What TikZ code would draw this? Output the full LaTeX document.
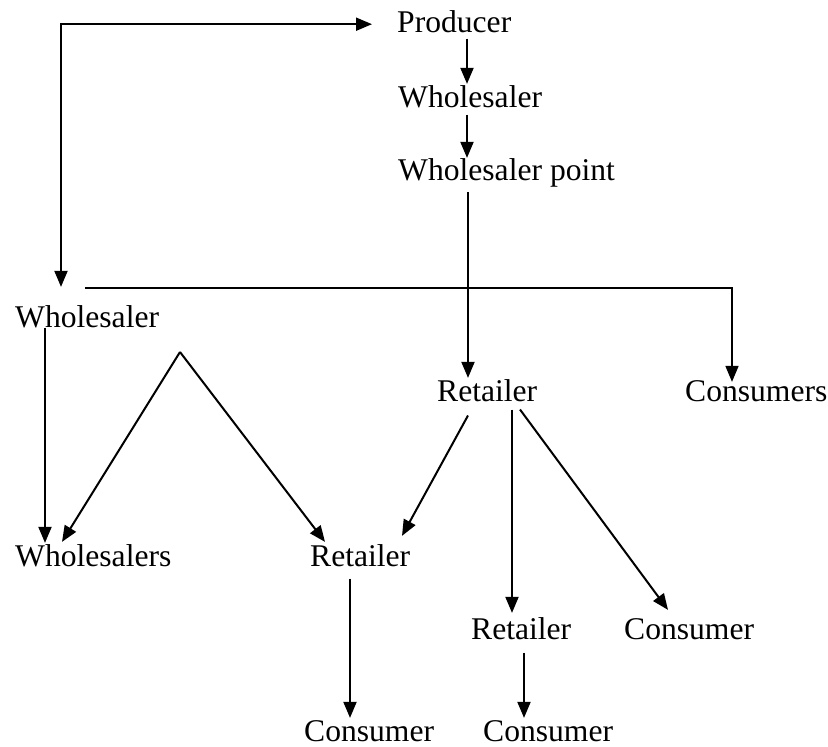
\documentclass[tikz,border=0pt]{standalone}
\usepackage{fontspec}
\setmainfont{Liberation Serif}
\usepackage{tikz}
\usetikzlibrary{arrows.meta}

\tikzset{
    lbl/.style={anchor=base west, inner sep=0pt, font=\fontsize{31.6}{36}\selectfont},
    tip/.tip={Triangle[length=16pt,width=13pt]},
    flow/.style={-tip, line width=2pt},
}

\begin{document}
\begin{tikzpicture}[x=1pt, y=-1pt]
    \useasboundingbox (0,0) rectangle (828,747);

    \node[lbl] (prod)  at (397,32)  {Producer};
    \node[lbl] (whtop) at (398,107) {Wholesaler};
    \node[lbl] (whpt)  at (398,180) {Wholesaler point};
    \node[lbl] (whl)   at (15,327)  {Wholesaler};
    \node[lbl] (retA)  at (437,401) {Retailer};
    \node[lbl] (cons)  at (685,401) {Consumers};
    \node[lbl] (whs)   at (15,566)  {Wholesalers};
    \node[lbl] (retB)  at (310,566) {Retailer};
    \node[lbl] (retC)  at (471,639) {Retailer};
    \node[lbl] (conA)  at (624,639) {Consumer};
    \node[lbl] (conB)  at (304,741) {Consumer};
    \node[lbl] (conC)  at (483,741) {Consumer};

    \coordinate (split) at (85,288);
    \coordinate (fork)  at (180,352);

    % main chain
    \path ([xshift=70pt,yshift=-6pt]prod.south west) edge [flow] ([xshift=69pt,yshift=1pt]whtop.north west)
          ([xshift=69pt,yshift=-7pt]whtop.south west) edge [flow] ([xshift=69pt]whpt.north west)
          ([xshift=70pt,yshift=-5pt]whpt.south west) edge [flow] ([xshift=31pt,yshift=1pt]retA.north west);

    % loop back to the producer
    \draw[tip-tip, line width=2pt]
        ([xshift=46pt,yshift=18pt]whl.north west) |- ([xshift=-25pt,yshift=-3pt]prod.west);

    \draw[flow, line width=1.6pt] (split) -| ([xshift=47pt,yshift=-2pt]cons.north west);

    % left branch
    \path ([xshift=30pt]whl.south west) edge [flow] ([xshift=30pt,yshift=1pt]whs.north west)
          (fork) edge [flow] ([xshift=47pt,yshift=2pt]whs.north west)
          (fork) edge [flow] ([xshift=15pt,yshift=2pt]retB.north west);

    % right branch
    \path ([xshift=31pt,yshift=-14pt]retA.south west) edge [flow] ([xshift=92pt,yshift=8pt]retB.north west)
          ([xshift=75pt,yshift=-8pt]retA.south west) edge [flow] ([xshift=41pt,yshift=4pt]retC.north west)
          ([xshift=83pt,yshift=-8pt]retA.south west) edge [flow] ([xshift=44pt,yshift=8pt]conA.north west)
          ([xshift=40pt,yshift=-12pt]retB.south west) edge [flow] ([xshift=46pt,yshift=2pt]conB.north west)
          ([xshift=53pt,yshift=-13pt]retC.south west) edge [flow] ([xshift=41pt,yshift=2pt]conC.north west);
\end{tikzpicture}
\end{document}
